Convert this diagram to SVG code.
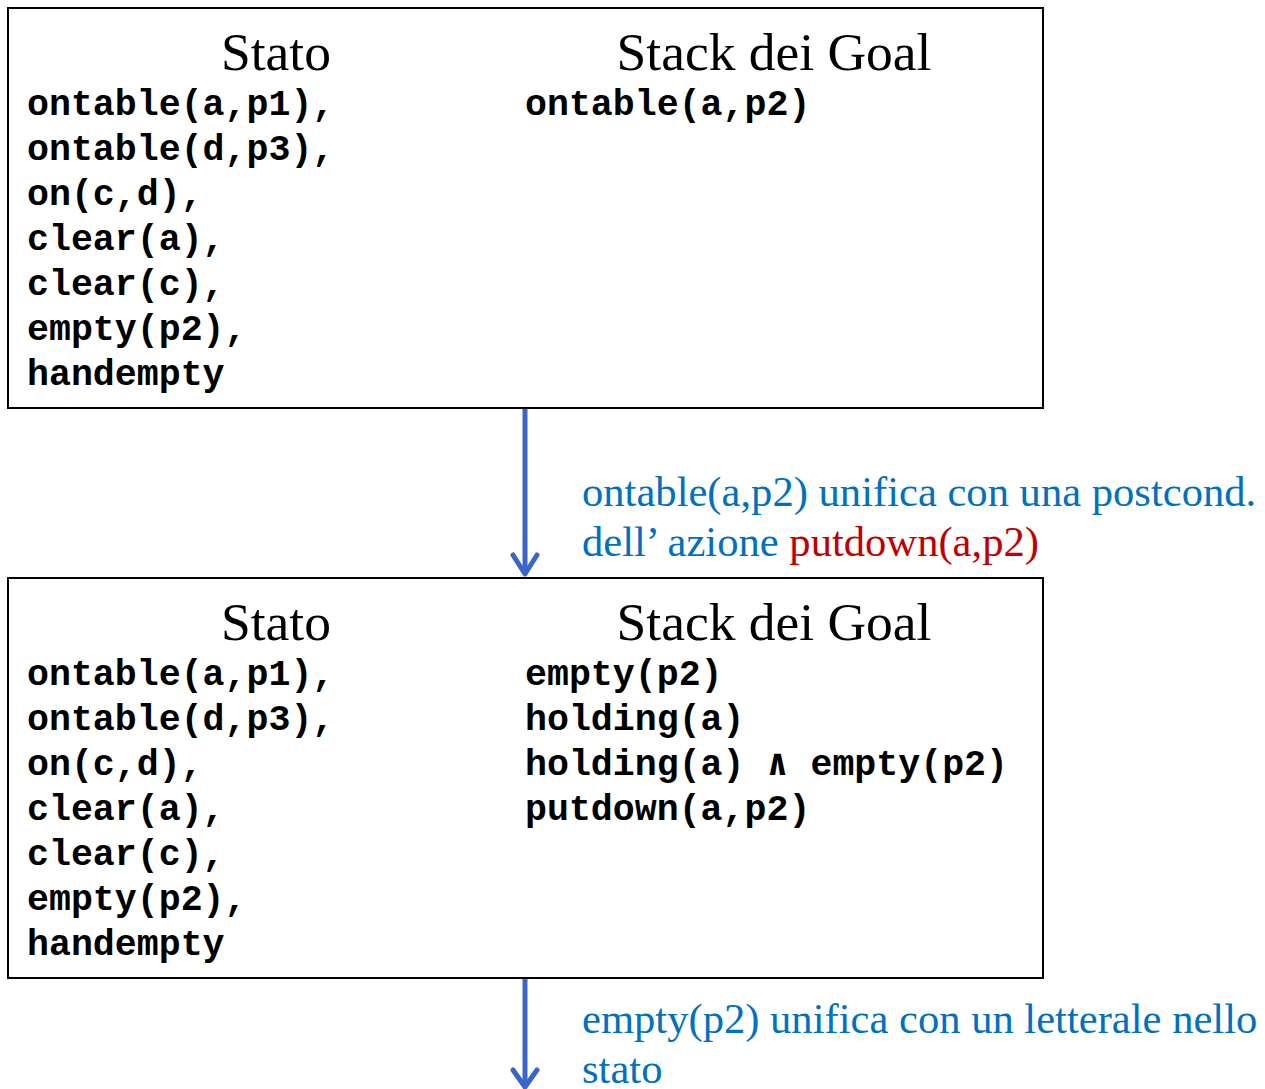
<svg xmlns="http://www.w3.org/2000/svg" width="1265" height="1089" viewBox="0 0 1265 1089">
<style>
.box{fill:#fff;stroke:#000;stroke-width:2}
.title{font-family:"Liberation Serif",serif;font-size:53.5px;fill:#000;text-anchor:middle}
.mono{font-family:"Liberation Mono",monospace;font-weight:bold;font-size:36.6px;fill:#000}
.lbl{font-family:"Liberation Serif",serif;font-size:42.6px;fill:#0070c0}
.red{fill:#c00000}
.conn{stroke:#3a66cc;stroke-width:5;fill:none}
.head{stroke:#3a66cc;stroke-width:5;fill:none;stroke-linecap:round;stroke-linejoin:round}
</style>
<rect width="1265" height="1089" fill="#fff"/>
<g id="node1">
<rect class="box" x="8" y="8" width="1035" height="400"/>
<text class="title" x="276" y="70">Stato</text>
<text class="title" x="774" y="70">Stack dei Goal</text>
<text class="mono" x="27" y="115">ontable(a,p1),</text>
<text class="mono" x="27" y="160">ontable(d,p3),</text>
<text class="mono" x="27" y="205">on(c,d),</text>
<text class="mono" x="27" y="250">clear(a),</text>
<text class="mono" x="27" y="295">clear(c),</text>
<text class="mono" x="27" y="340">empty(p2),</text>
<text class="mono" x="27" y="385">handempty</text>
<text class="mono" x="525" y="115">ontable(a,p2)</text>
</g>
<g id="node2">
<rect class="box" x="8" y="578" width="1035" height="400"/>
<text class="title" x="276" y="640">Stato</text>
<text class="title" x="774" y="640">Stack dei Goal</text>
<text class="mono" x="27" y="685">ontable(a,p1),</text>
<text class="mono" x="27" y="730">ontable(d,p3),</text>
<text class="mono" x="27" y="775">on(c,d),</text>
<text class="mono" x="27" y="820">clear(a),</text>
<text class="mono" x="27" y="865">clear(c),</text>
<text class="mono" x="27" y="910">empty(p2),</text>
<text class="mono" x="27" y="955">handempty</text>
<text class="mono" x="525" y="685">empty(p2)</text>
<text class="mono" x="525" y="730">holding(a)</text>
<text class="mono" x="525" y="775">holding(a) ∧ empty(p2)</text>
<text class="mono" x="525" y="820">putdown(a,p2)</text>
</g>
<g id="connectors">
<line class="conn" x1="525" y1="409" x2="525" y2="574"/>
<polyline class="head" points="513,555 525,574 537,555"/>
<text class="lbl" x="582" y="506">ontable(a,p2) unifica con una postcond.</text>
<text class="lbl" x="582" y="556">dell’ azione <tspan class="red">putdown(a,p2)</tspan></text>
<line class="conn" x1="525" y1="979" x2="525" y2="1087"/>
<polyline class="head" points="513,1070 525,1087 537,1070"/>
<text class="lbl" x="582" y="1033">empty(p2) unifica con un letterale nello</text>
<text class="lbl" x="582" y="1083">stato</text>
</g>
</svg>
